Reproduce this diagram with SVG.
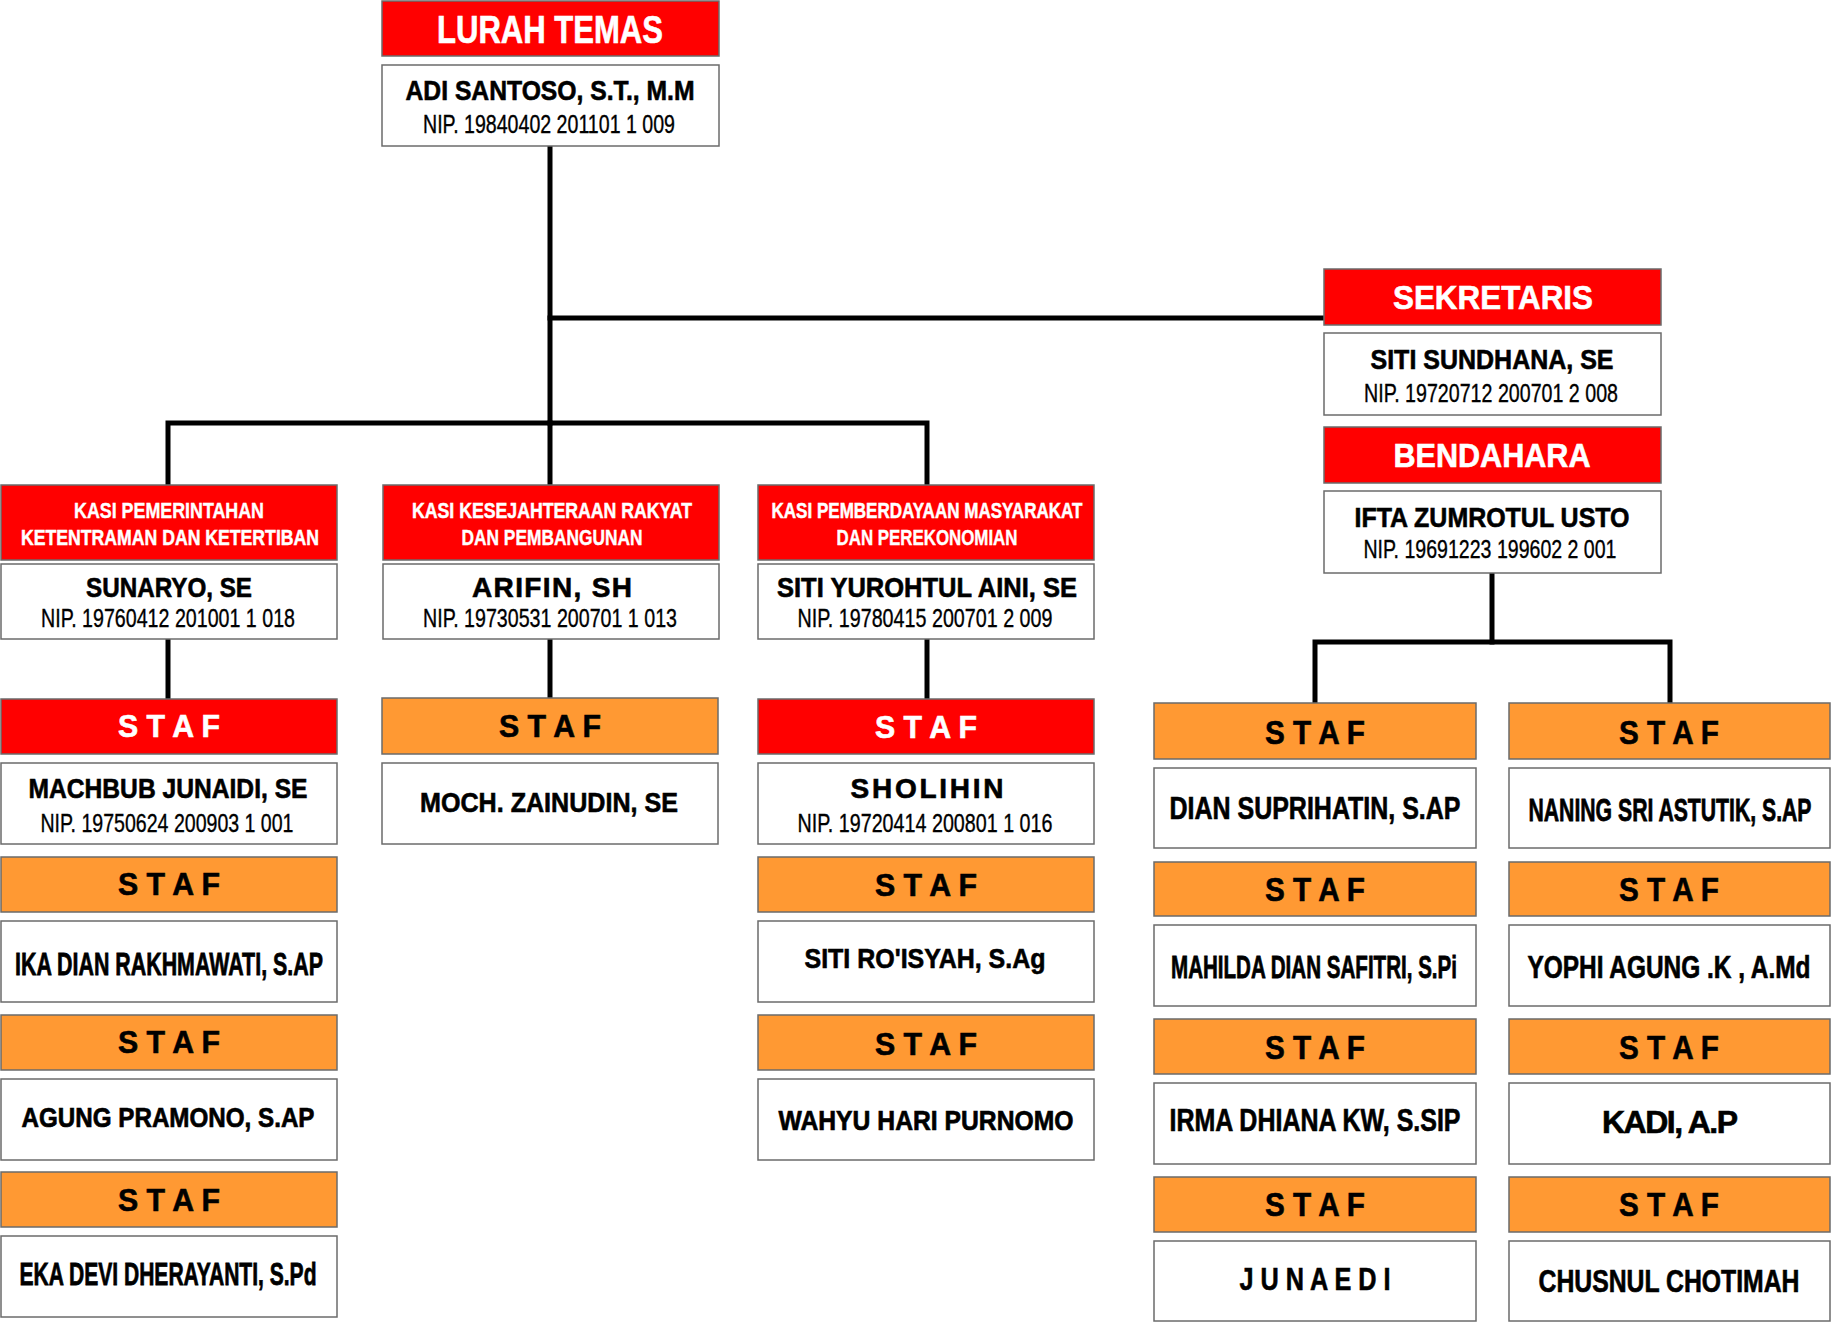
<svg xmlns="http://www.w3.org/2000/svg" width="1831" height="1324" viewBox="0 0 1831 1324">
<style>
.red{fill:#FF0000;stroke:#6b6b6b;stroke-width:1.5}
.org{fill:#FF9933;stroke:#6b6b6b;stroke-width:1.5}
.wht{fill:#FFFFFF;stroke:#6b6b6b;stroke-width:1.5}
text{font-family:"Liberation Sans",Arial,sans-serif;font-weight:bold;text-anchor:middle;fill:#000;stroke:#000;stroke-width:0.6}
.w{fill:#FFFFFF;stroke:#FFFFFF}
.nip{font-weight:normal;font-size:25px;stroke-width:0.35}
.nm{font-size:28px}
.kasi{font-size:22px;stroke-width:0.4}
.staf{font-size:31px}
.staf2{font-size:34px}
.big{font-size:32px}
.conn{fill:none;stroke:#000;stroke-width:5;stroke-linejoin:miter;stroke-linecap:square}
</style>
<rect width="1831" height="1324" fill="#FFFFFF"/>
<g id="connectors">
<path class="conn" d="M550,146 V423"/>
<path class="conn" d="M550,318 H1322"/>
<path class="conn" d="M168,485 V423 H927 V485"/>
<path class="conn" d="M550,423 V485"/>
<path class="conn" d="M168,639 V699"/>
<path class="conn" d="M550,639 V698"/>
<path class="conn" d="M927,639 V699"/>
<path class="conn" d="M1492,573 V642"/>
<path class="conn" d="M1315,703 V642 H1670 V703"/>
</g>
<g id="lurah">
<rect class="red" x="382" y="1" width="337" height="55"/>
<text class="w" x="550" y="43" font-size="38" textLength="226" lengthAdjust="spacingAndGlyphs">LURAH TEMAS</text>
<rect class="wht" x="382" y="65" width="337" height="81"/>
<text class="nm" x="550" y="100" textLength="289" lengthAdjust="spacingAndGlyphs">ADI SANTOSO, S.T., M.M</text>
<text class="nip" x="549" y="133" textLength="252" lengthAdjust="spacingAndGlyphs">NIP. 19840402 201101 1 009</text>
</g>
<g id="sekretaris">
<rect class="red" x="1324" y="269" width="337" height="56"/>
<text class="w" x="1493" y="309" font-size="34" textLength="200" lengthAdjust="spacingAndGlyphs">SEKRETARIS</text>
<rect class="wht" x="1324" y="333" width="337" height="82"/>
<text class="nm" x="1492" y="369" textLength="243" lengthAdjust="spacingAndGlyphs">SITI SUNDHANA, SE</text>
<text class="nip" x="1491" y="402" textLength="254" lengthAdjust="spacingAndGlyphs">NIP. 19720712 200701 2 008</text>
</g>
<g id="bendahara">
<rect class="red" x="1324" y="427" width="337" height="56"/>
<text class="w" x="1492" y="467" font-size="34" textLength="197" lengthAdjust="spacingAndGlyphs">BENDAHARA</text>
<rect class="wht" x="1324" y="491" width="337" height="82"/>
<text class="nm" x="1492" y="527" textLength="275" lengthAdjust="spacingAndGlyphs">IFTA ZUMROTUL USTO</text>
<text class="nip" x="1490" y="558" textLength="253" lengthAdjust="spacingAndGlyphs">NIP. 19691223 199602 2 001</text>
</g>
<g id="kasi-pemerintahan">
<rect class="red" x="1" y="485" width="336" height="75"/>
<text class="w kasi" x="169" y="518" textLength="190" lengthAdjust="spacingAndGlyphs">KASI PEMERINTAHAN</text>
<text class="w kasi" transform="translate(170,545) scale(1,1.246)" x="0" y="0" style="font-size:17.65px" textLength="298" lengthAdjust="spacingAndGlyphs">KETENTRAMAN DAN KETERTIBAN</text>
<rect class="wht" x="1" y="564" width="336" height="75"/>
<text class="nm" x="169" y="597" textLength="166" lengthAdjust="spacingAndGlyphs">SUNARYO, SE</text>
<text class="nip" x="168" y="627" textLength="254" lengthAdjust="spacingAndGlyphs">NIP. 19760412 201001 1 018</text>
</g>
<g id="kasi-kesra">
<rect class="red" x="383" y="485" width="336" height="75"/>
<text class="w kasi" transform="translate(552,518) scale(1,1.257)" x="0" y="0" style="font-size:17.5px" textLength="280" lengthAdjust="spacingAndGlyphs">KASI KESEJAHTERAAN RAKYAT</text>
<text class="w kasi" x="552" y="545" textLength="181" lengthAdjust="spacingAndGlyphs">DAN PEMBANGUNAN</text>
<rect class="wht" x="383" y="564" width="336" height="75"/>
<text class="nm" x="552" y="597" textLength="160" lengthAdjust="spacing">ARIFIN, SH</text>
<text class="nip" x="550" y="627" textLength="254" lengthAdjust="spacingAndGlyphs">NIP. 19730531 200701 1 013</text>
</g>
<g id="kasi-pemberdayaan">
<rect class="red" x="758" y="485" width="336" height="75"/>
<text class="w kasi" transform="translate(927,518) scale(1,1.315)" x="0" y="0" style="font-size:16.7px" textLength="311" lengthAdjust="spacingAndGlyphs">KASI PEMBERDAYAAN MASYARAKAT</text>
<text class="w kasi" x="927" y="545" textLength="181" lengthAdjust="spacingAndGlyphs">DAN PEREKONOMIAN</text>
<rect class="wht" x="758" y="564" width="336" height="75"/>
<text class="nm" x="927" y="597" textLength="300" lengthAdjust="spacingAndGlyphs">SITI YUROHTUL AINI, SE</text>
<text class="nip" x="925" y="627" textLength="255" lengthAdjust="spacingAndGlyphs">NIP. 19780415 200701 2 009</text>
</g>
<g id="staf-machbub">
<rect class="red" x="1" y="699" width="336" height="55"/>
<text class="w staf" x="169" y="737" textLength="102" lengthAdjust="spacingAndGlyphs">S T A F</text>
<rect class="wht" x="1" y="763" width="336" height="81"/>
<text class="nm" x="168" y="798" textLength="279" lengthAdjust="spacingAndGlyphs">MACHBUB JUNAIDI, SE</text>
<text class="nip" x="167" y="832" textLength="253" lengthAdjust="spacingAndGlyphs">NIP. 19750624 200903 1 001</text>
</g>
<g id="staf-ika">
<rect class="org" x="1" y="857" width="336" height="55"/>
<text class="staf" x="169" y="895" textLength="102" lengthAdjust="spacingAndGlyphs">S T A F</text>
<rect class="wht" x="1" y="921" width="336" height="81"/>
<text transform="translate(169,975) scale(1,1.515)" x="0" y="0" style="font-size:21.1px;stroke-width:0.5" textLength="308" lengthAdjust="spacingAndGlyphs">IKA DIAN RAKHMAWATI, S.AP</text>
</g>
<g id="staf-agung">
<rect class="org" x="1" y="1015" width="336" height="55"/>
<text class="staf" x="169" y="1053" textLength="102" lengthAdjust="spacingAndGlyphs">S T A F</text>
<rect class="wht" x="1" y="1079" width="336" height="81"/>
<text transform="translate(168,1127) scale(1,1.157)" x="0" y="0" style="font-size:24.2px" textLength="293" lengthAdjust="spacingAndGlyphs">AGUNG PRAMONO, S.AP</text>
</g>
<g id="staf-eka">
<rect class="org" x="1" y="1172" width="336" height="55"/>
<text class="staf" x="169" y="1211" textLength="102" lengthAdjust="spacingAndGlyphs">S T A F</text>
<rect class="wht" x="1" y="1236" width="336" height="81"/>
<text transform="translate(168,1285) scale(1,1.546)" x="0" y="0" style="font-size:20.7px;stroke-width:0.5" textLength="297" lengthAdjust="spacingAndGlyphs">EKA DEVI DHERAYANTI, S.Pd</text>
</g>
<g id="staf-moch">
<rect class="org" x="382" y="698" width="336" height="56"/>
<text class="staf" x="550" y="737" textLength="102" lengthAdjust="spacingAndGlyphs">S T A F</text>
<rect class="wht" x="382" y="763" width="336" height="81"/>
<text class="nm" x="549" y="812" textLength="258" lengthAdjust="spacingAndGlyphs">MOCH. ZAINUDIN, SE</text>
</g>
<g id="staf-sholihin">
<rect class="red" x="758" y="699" width="336" height="55"/>
<text class="w staf" x="926" y="738" textLength="102" lengthAdjust="spacingAndGlyphs">S T A F</text>
<rect class="wht" x="758" y="763" width="336" height="81"/>
<text class="nm" x="927" y="798" textLength="153" lengthAdjust="spacing">SHOLIHIN</text>
<text class="nip" x="925" y="832" textLength="255" lengthAdjust="spacingAndGlyphs">NIP. 19720414 200801 1 016</text>
</g>
<g id="staf-siti">
<rect class="org" x="758" y="857" width="336" height="55"/>
<text class="staf" x="926" y="896" textLength="102" lengthAdjust="spacingAndGlyphs">S T A F</text>
<rect class="wht" x="758" y="921" width="336" height="81"/>
<text class="nm" x="925" y="968" textLength="241" lengthAdjust="spacingAndGlyphs">SITI RO'ISYAH, S.Ag</text>
</g>
<g id="staf-wahyu">
<rect class="org" x="758" y="1015" width="336" height="55"/>
<text class="staf" x="926" y="1055" textLength="102" lengthAdjust="spacingAndGlyphs">S T A F</text>
<rect class="wht" x="758" y="1079" width="336" height="81"/>
<text transform="translate(926,1130) scale(1,1.139)" x="0" y="0" style="font-size:24.6px" textLength="295" lengthAdjust="spacingAndGlyphs">WAHYU HARI PURNOMO</text>
</g>
<g id="staf-dian">
<rect class="org" x="1154" y="703" width="322" height="56"/>
<text class="staf2" x="1315" y="744" textLength="100" lengthAdjust="spacingAndGlyphs">S T A F</text>
<rect class="wht" x="1154" y="768" width="322" height="80"/>
<text transform="translate(1315,819) scale(1,1.289)" x="0" y="0" style="font-size:24.8px;stroke-width:0.5" textLength="291" lengthAdjust="spacingAndGlyphs">DIAN SUPRIHATIN, S.AP</text>
</g>
<g id="staf-mahilda">
<rect class="org" x="1154" y="862" width="322" height="54"/>
<text class="staf2" x="1315" y="901" textLength="100" lengthAdjust="spacingAndGlyphs">S T A F</text>
<rect class="wht" x="1154" y="925" width="322" height="81"/>
<text transform="translate(1314,978) scale(1,1.56)" x="0" y="0" style="font-size:20.5px;stroke-width:0.5" textLength="286" lengthAdjust="spacingAndGlyphs">MAHILDA DIAN SAFITRI, S.Pi</text>
</g>
<g id="staf-irma">
<rect class="org" x="1154" y="1019" width="322" height="55"/>
<text class="staf2" x="1315" y="1059" textLength="100" lengthAdjust="spacingAndGlyphs">S T A F</text>
<rect class="wht" x="1154" y="1083" width="322" height="81"/>
<text transform="translate(1315,1131) scale(1,1.296)" x="0" y="0" style="font-size:24.7px;stroke-width:0.5" textLength="291" lengthAdjust="spacingAndGlyphs">IRMA DHIANA KW, S.SIP</text>
</g>
<g id="staf-junaedi">
<rect class="org" x="1154" y="1177" width="322" height="55"/>
<text class="staf2" x="1315" y="1216" textLength="100" lengthAdjust="spacingAndGlyphs">S T A F</text>
<rect class="wht" x="1154" y="1241" width="322" height="80"/>
<text class="big" x="1315" y="1290" textLength="151" lengthAdjust="spacingAndGlyphs">J U N A E D I</text>
</g>
<g id="staf-naning">
<rect class="org" x="1509" y="703" width="321" height="56"/>
<text class="staf2" x="1669" y="744" textLength="100" lengthAdjust="spacingAndGlyphs">S T A F</text>
<rect class="wht" x="1509" y="768" width="321" height="80"/>
<text transform="translate(1670,821) scale(1,1.513)" x="0" y="0" style="font-size:21.2px;stroke-width:0.5" textLength="283" lengthAdjust="spacingAndGlyphs">NANING SRI ASTUTIK, S.AP</text>
</g>
<g id="staf-yophi">
<rect class="org" x="1509" y="862" width="321" height="54"/>
<text class="staf2" x="1669" y="901" textLength="100" lengthAdjust="spacingAndGlyphs">S T A F</text>
<rect class="wht" x="1509" y="925" width="321" height="81"/>
<text transform="translate(1669,978) scale(1,1.318)" x="0" y="0" style="font-size:24.3px;stroke-width:0.5" textLength="283" lengthAdjust="spacingAndGlyphs">YOPHI AGUNG .K , A.Md</text>
</g>
<g id="staf-kadi">
<rect class="org" x="1509" y="1019" width="321" height="55"/>
<text class="staf2" x="1669" y="1059" textLength="100" lengthAdjust="spacingAndGlyphs">S T A F</text>
<rect class="wht" x="1509" y="1083" width="321" height="81"/>
<text class="big" x="1670" y="1133" textLength="136" lengthAdjust="spacing">KADI, A.P</text>
</g>
<g id="staf-chusnul">
<rect class="org" x="1509" y="1177" width="321" height="55"/>
<text class="staf2" x="1669" y="1216" textLength="100" lengthAdjust="spacingAndGlyphs">S T A F</text>
<rect class="wht" x="1509" y="1241" width="321" height="80"/>
<text transform="translate(1669,1292) scale(1,1.295)" x="0" y="0" style="font-size:24.7px;stroke-width:0.5" textLength="261" lengthAdjust="spacingAndGlyphs">CHUSNUL CHOTIMAH</text>
</g>
</svg>
